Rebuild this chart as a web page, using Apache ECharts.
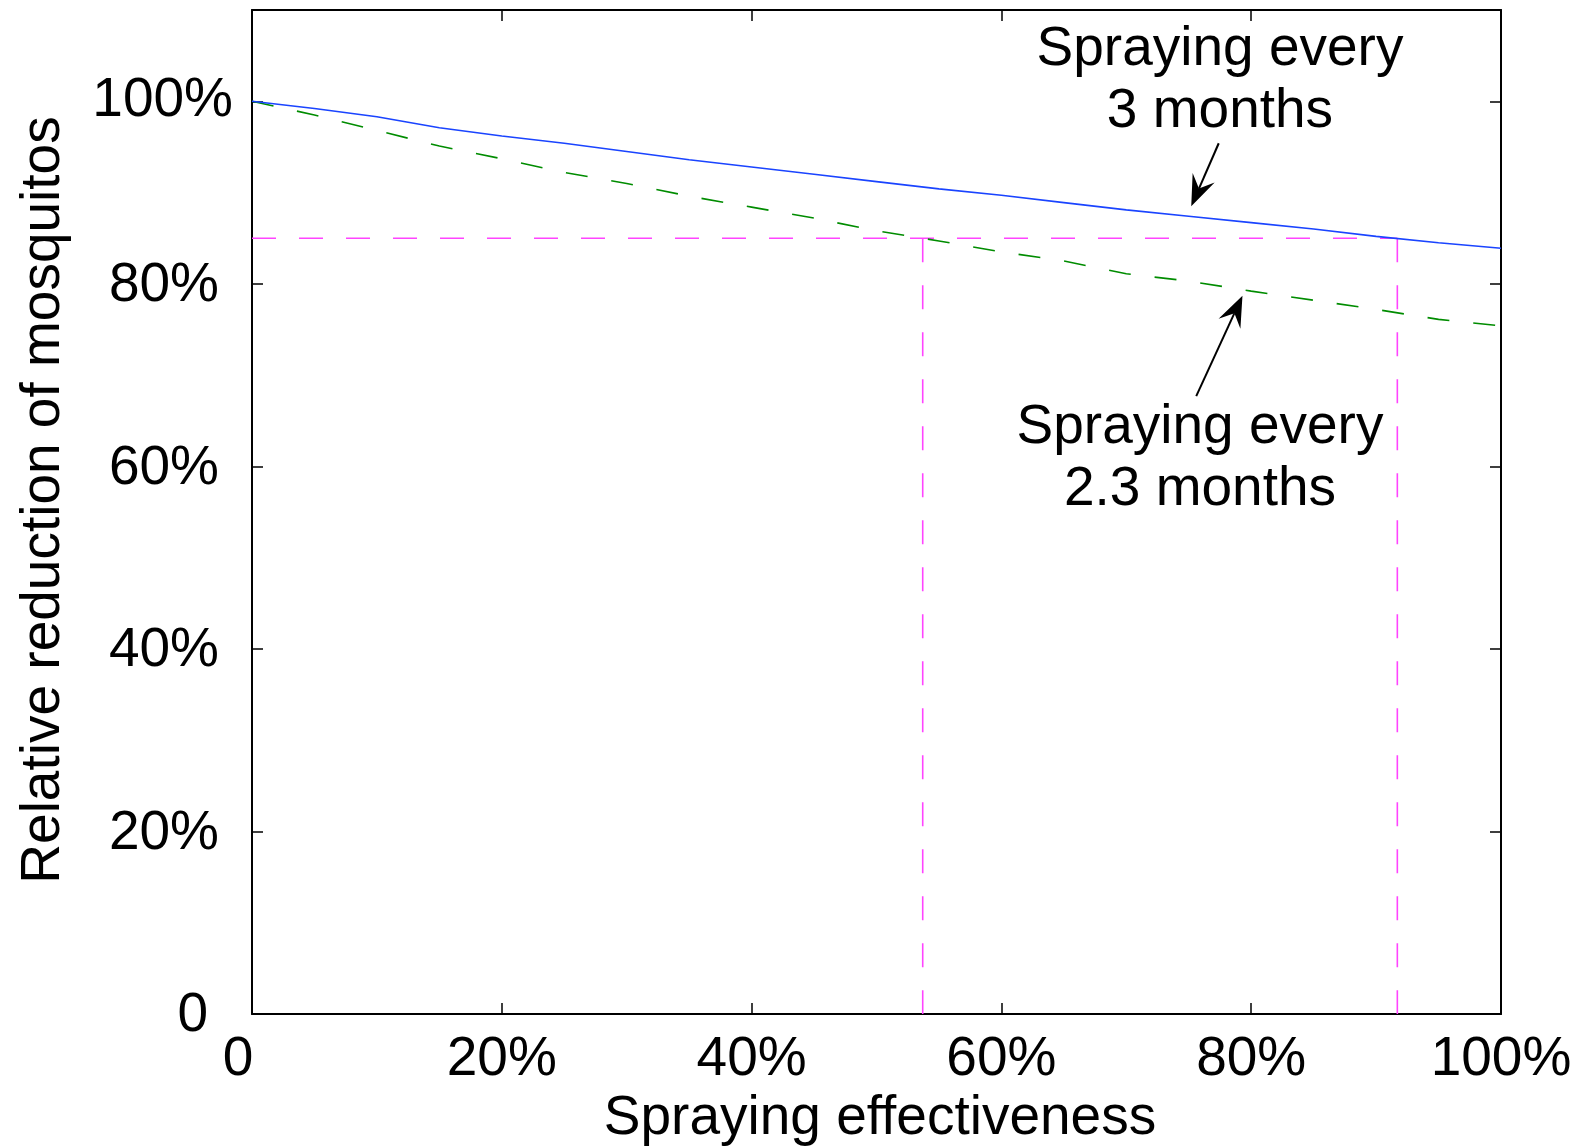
<!DOCTYPE html>
<html>
<head>
<meta charset="utf-8">
<script src="https://cdn.jsdelivr.net/npm/echarts@6/dist/echarts.min.js"></script>
<style>
html,body{margin:0;padding:0;background:#fff;}
#chart{width:1576px;height:1147px;}
</style>
</head>
<body>
<div id="chart"></div>
<script>
// ---- data ----
const effectiveness = [0,5,10,15,20,25,30,35,40,45,50,55,60,65,70,75,80,85,90,95,100];
const every3Months  = [100,99.2,98.3,97.1,96.2,95.4,94.5,93.6,92.8,92.0,91.2,90.4,89.7,88.9,88.1,87.4,86.7,86.0,85.2,84.5,83.9];
const every23Months = [100,98.5,96.8,95.1,93.7,92.2,91.0,89.6,88.4,87.2,85.8,84.7,83.5,82.5,81.1,80.3,79.2,78.2,77.2,76.1,75.4];
const targetReduction = 85;
const crossing23 = 53.7;
const crossing3 = 91.7;
const xTicks = [0,20,40,60,80,100];
const yTicks = [0,20,40,60,80,100];
const xTitle = 'Spraying effectiveness';
const yTitle = 'Relative reduction of mosquitos';
const label3 = 'Spraying every\n3 months';
const label23 = 'Spraying every\n2.3 months';

// ---- chart ----
const FONT = '"Liberation Sans", Arial, Helvetica, sans-serif';
const FS = 55;
const chart = echarts.init(document.getElementById('chart'), null, {renderer:'canvas'});

const pct = v => v + '%';
const xLabelFmt = v => xTicks.includes(v) ? (v === 0 ? '{z|0}' : pct(v)) : '';
const yLabelFmt = v => {
  if (!yTicks.includes(v)) return '';
  if (v === 0) return '{z|0}';
  if (v < 100) return '{m|' + pct(v) + '}';
  return pct(v);
};

const axisLine = {show:true, onZero:false, lineStyle:{color:'#000', width:2}};
const axisTick = {show:true, inside:true, length:11, lineStyle:{color:'#000', width:1.5}};

function baseX(pos, showLabel){
  return {type:'value', min:0, max:100, interval:20, position:pos,
    axisLine, axisTick, splitLine:{show:false},
    axisLabel: showLabel ? {show:true, formatter:xLabelFmt, color:'#000', fontSize:FS, fontFamily:FONT, margin:18,
      rich:{z:{fontSize:FS, fontFamily:FONT, color:'#000', padding:[0,28,0,0]}}} : {show:false}};
}
function baseY(pos, showLabel){
  return {type:'value', min:0, max:110, interval:20, position:pos,
    axisLine, axisTick, splitLine:{show:false},
    axisLabel: showLabel ? {show:true, formatter:yLabelFmt, color:'#000', fontSize:FS, fontFamily:FONT, margin:19, showMaxLabel:false,
      rich:{
        z:{fontSize:FS, fontFamily:FONT, color:'#000', padding:[4,25,0,0]},
        m:{fontSize:FS, fontFamily:FONT, color:'#000', padding:[4,14,0,0]}
      }} : {show:false}};
}

function arrowRender(params, api){
  const p0 = api.coord([api.value(0), api.value(1)]);
  const p1 = api.coord([api.value(2), api.value(3)]);
  const dx = p1[0]-p0[0], dy = p1[1]-p0[1];
  const len = Math.hypot(dx, dy);
  const ux = dx/len, uy = dy/len;
  const px = -uy, py = ux;
  const L = 31, W = 12, N = 0.62*L;
  const back = [p1[0]-ux*L, p1[1]-uy*L];
  const notch = [p1[0]-ux*N, p1[1]-uy*N];
  return {type:'group', children:[
    {type:'line', shape:{x1:p0[0], y1:p0[1], x2:notch[0], y2:notch[1]}, style:{stroke:'#000', lineWidth:2}},
    {type:'polygon', shape:{points:[p1, [back[0]+px*W, back[1]+py*W], notch, [back[0]-px*W, back[1]-py*W]]}, style:{fill:'#000'}}
  ]};
}
function textRender(params, api){
  const p = api.coord([api.value(0), api.value(1)]);
  return {type:'text', x:p[0], y:p[1], style:{text: params.dataIndex === 0 ? label3 : label23,
    fontSize:FS, fontFamily:FONT, fill:'#000', align:'center', verticalAlign:'middle', lineHeight:62}};
}

const magenta = {color:'#ff44ff', width:1.6, type:[24,23]};

chart.setOption({
  animation:false,
  backgroundColor:'#fff',
  grid:{left:252, right:75, top:10, bottom:133, containLabel:false},
  xAxis:[baseX('bottom', true), baseX('top', false)],
  yAxis:[baseY('left', true), baseY('right', false)],
  graphic:[
    {type:'text', x:880, y:1119, style:{text:xTitle, fontSize:FS, fontFamily:FONT, fill:'#000', align:'center', verticalAlign:'middle'}},
    {type:'text', x:44, y:500, rotation:Math.PI/2, style:{text:yTitle, fontSize:FS, fontFamily:FONT, fill:'#000', align:'center', verticalAlign:'middle'}}
  ],
  series:[
    {type:'line', name:'target', data:[[0,targetReduction],[crossing3,targetReduction]], symbol:'none', lineStyle:magenta, z:1},
    {type:'line', name:'v23', data:[[crossing23,targetReduction],[crossing23,0]], symbol:'none', lineStyle:magenta, z:1},
    {type:'line', name:'v3', data:[[crossing3,targetReduction],[crossing3,0]], symbol:'none', lineStyle:magenta, z:1},
    {type:'line', name:'2.3 months', data:effectiveness.map((x,i)=>[x, every23Months[i]]), symbol:'none',
      lineStyle:{color:'#008c00', width:1.6, type:[22,24]}, z:2},
    {type:'line', name:'3 months', data:effectiveness.map((x,i)=>[x, every3Months[i]]), symbol:'none',
      lineStyle:{color:'#1a44ff', width:1.6}, z:3},
    {type:'custom', name:'arrows', renderItem:arrowRender, data:[[77.4,95.4,75.2,88.5],[75.6,67.7,79.3,78.7]],
      encode:{x:[0,2], y:[1,3]}, z:4, silent:true},
    {type:'custom', name:'labels', renderItem:textRender, data:[[77.5,102.2],[75.9,60.8]],
      encode:{x:0, y:1}, z:4, silent:true}
  ]
});
</script>
</body>
</html>
